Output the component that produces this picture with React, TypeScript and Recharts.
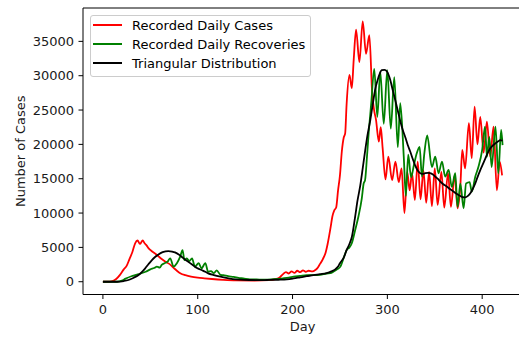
import React from 'react';
import { LineChart, Line, XAxis, YAxis, Legend, ReferenceLine } from 'recharts';

const caseDays = [0, 5, 10, 14, 18, 22, 25, 28, 31, 34, 36.5, 39, 42, 44, 46, 48, 52, 57, 62, 66, 70, 74, 78, 82, 87, 93, 100, 107, 115, 127, 140, 160, 175, 183, 187, 190, 193, 196, 199, 202, 205, 208, 211, 214, 217, 221, 224, 226, 229, 232, 235, 237, 240, 242, 244, 246, 248, 250, 252, 254, 255.5, 257, 260, 262.5, 264.5, 267, 270.5, 274, 277.5, 281, 284, 286, 288, 291, 293, 295, 298, 301, 305, 308.5, 312, 315, 318, 321, 323.5, 326, 329, 332, 335, 338, 341, 344, 347, 350, 353, 357, 360, 364, 367, 371, 374, 377, 379, 382, 386, 389, 392, 395, 398, 401.5, 405, 408.5, 412, 415.5, 418.5, 421];
const caseValues = [0, 0, 100, 400, 1000, 1800, 2300, 3300, 4300, 5600, 6000, 5500, 6000, 5600, 5300, 4900, 4400, 3900, 3300, 2900, 2600, 2100, 1600, 1200, 950, 750, 600, 500, 400, 280, 200, 180, 220, 400, 700, 1100, 1400, 1200, 1500, 1300, 1600, 1400, 1650, 1450, 1600, 1500, 1700, 1950, 2600, 3300, 4300, 5500, 7800, 9500, 10400, 10800, 13300, 15500, 19000, 21000, 21600, 25800, 30100, 28200, 32300, 36700, 32000, 37900, 33200, 35900, 27400, 25000, 23600, 20400, 22500, 19500, 14900, 18200, 14800, 17500, 14500, 16500, 10000, 16000, 13300, 15800, 11900, 17500, 12000, 16200, 11500, 16000, 11000, 16500, 11200, 16000, 10800, 15800, 10900, 15500, 10700, 14000, 19200, 16500, 23100, 18000, 25500, 20000, 24000, 18800, 23300, 18200, 22600, 13300, 17500, 15500];

const recoveryDays = [0, 15, 20, 24, 30, 34, 40, 45, 50, 54, 57, 60, 62, 65, 68, 71, 74.5, 78, 81.5, 84, 86, 88.5, 91, 94, 97, 101, 104, 108, 111, 114, 117, 120, 124, 127, 132, 138, 143, 148, 155, 162, 170, 180, 190, 196, 201, 208, 215, 222, 229, 236, 240, 243, 247, 250.5, 254, 257, 260, 262.5, 266, 269.5, 273, 275, 276.5, 278.5, 280, 283, 286.2, 289.4, 292.5, 296.2, 299.9, 303.6, 307.3, 311, 313.6, 317.3, 319.5, 322, 325, 328, 331, 334, 336.5, 339, 342, 347, 350.5, 354, 357.6, 361, 364.6, 368, 371.6, 374, 377, 380.4, 383, 386.8, 389, 392.7, 396, 400, 403, 405, 407.5, 410, 414, 417, 420, 421.5];
const recoveryValues = [0, 0, 150, 450, 800, 970, 1200, 1450, 1800, 2000, 2200, 2050, 2450, 2700, 2900, 3400, 2200, 2700, 3650, 4600, 3150, 3400, 3000, 3400, 2200, 2700, 1950, 2700, 1450, 1550, 1250, 1650, 1000, 950, 800, 700, 550, 480, 350, 330, 300, 380, 500, 600, 730, 850, 970, 950, 1000, 1200, 1250, 1450, 1800, 2200, 3500, 4600, 5000, 5600, 7500, 9500, 12100, 14300, 14800, 18200, 21100, 26000, 31000, 24000, 30600, 23000, 30800, 22300, 29800, 19600, 26000, 18200, 12500, 18500, 15200, 17000, 18700, 19650, 15300, 18700, 21300, 16700, 18200, 15800, 17500, 15300, 16300, 13800, 15800, 10900, 14300, 10700, 14300, 14500, 13100, 15300, 16700, 19200, 22600, 18200, 21100, 16700, 22600, 15800, 22100, 19900];

const fitDays = [0, 15, 22, 27, 32, 37.6, 41, 44.6, 48, 51.7, 55, 58.6, 63, 69, 73, 76, 80, 83, 86, 90, 94, 97, 100, 104, 108, 111, 117, 124, 130, 137, 145, 155, 165, 173, 185, 194, 201, 208, 215, 222, 229, 236, 241, 245, 248, 250, 254, 257, 260, 262.6, 266, 268.5, 271.4, 274, 276.7, 279, 282, 285, 287, 290, 292, 294, 297, 299.6, 303, 305.5, 308.3, 311, 313.6, 316, 319, 321.5, 324, 327, 329.4, 332, 334.7, 337, 340, 343, 345, 348, 350.6, 353, 356, 359, 363, 366, 370, 373, 377, 380, 382, 385, 387.5, 390, 392.7, 395, 398, 401, 403.4, 406, 408.5, 411, 414, 417, 419, 421.5];
const fitValues = [0, 0, 100, 250, 550, 975, 1400, 1950, 2550, 3160, 3600, 3980, 4300, 4470, 4400, 4280, 3950, 3640, 3300, 2910, 2500, 2180, 1950, 1700, 1450, 1220, 970, 730, 550, 390, 300, 250, 230, 250, 290, 350, 480, 640, 800, 970, 1100, 1250, 1500, 1800, 2200, 2700, 3500, 4600, 5500, 6550, 9460, 11800, 14000, 16500, 19200, 21300, 23540, 26200, 27900, 29500, 30300, 30800, 30850, 30600, 29400, 28000, 26450, 24900, 23400, 22200, 21000, 19900, 19000, 17800, 16900, 16200, 15800, 15700, 15800, 15850, 15800, 15600, 15300, 15000, 14560, 14200, 13830, 13500, 13100, 12800, 12480, 12300, 12290, 12500, 12870, 13500, 14300, 15200, 16260, 17200, 17970, 18800, 19420, 19800, 20150, 20450, 20630, 20550];

const seriesNames = ['Recorded Daily Cases', 'Recorded Daily Recoveries', 'Triangular Distribution'];
const seriesColors = ['#ff0000', '#008000', '#000000'];
const xTicks = [0, 100, 200, 300, 400];
const yTicks = [0, 5000, 10000, 15000, 20000, 25000, 30000, 35000];
const xDomain = [-21, 442];
const yDomain = [-1860, 39860];
const xLabel = 'Day';
const yLabel = 'Number of Cases';

const FONT = '"DejaVu Sans", sans-serif';

function buildTable() {
  const rows = new Map<number, Record<string, number>>();
  const add = (days: number[], vals: number[], key: string) => {
    days.forEach((d, i) => {
      const row = rows.get(d) ?? { day: d };
      row[key] = vals[i];
      rows.set(d, row);
    });
  };
  add(caseDays, caseValues, 'cases');
  add(recoveryDays, recoveryValues, 'recoveries');
  add(fitDays, fitValues, 'fit');
  return Array.from(rows.values()).sort((a, b) => a.day - b.day);
}

const table = buildTable();

const renderLegend = (props: any) => {
  const payload = props.payload || [];
  return (
    <div
      style={{
        display: 'inline-block',
        border: '1px solid #cccccc',
        borderRadius: 3,
        background: 'rgba(255,255,255,0.8)',
        padding: '0px 5px 3px 2px',
        fontFamily: FONT,
        fontSize: 13,
        color: '#000',
      }}
    >
      {payload.map((entry: any) => (
        <div key={entry.value} style={{ display: 'flex', alignItems: 'center', height: 19.2 }}>
          <span style={{ display: 'inline-block', width: 29, height: 2, background: entry.color, marginRight: 10 }} />
          <span style={{ whiteSpace: 'nowrap', lineHeight: '19px' }}>{entry.value}</span>
        </div>
      ))}
    </div>
  );
};

const tickStyle = { fontFamily: FONT, fontSize: 13, fill: '#1a1a1a' };

export default function App() {
  return (
    <div style={{ position: 'absolute', left: 0, top: 0, width: 519, height: 339, overflow: 'hidden', background: '#fff' }}>
      <LineChart width={522} height={339} data={table} margin={{ top: 8, right: 0, left: 0, bottom: 0 }}>
        <XAxis
          dataKey="day"
          type="number"
          domain={xDomain}
          ticks={xTicks}
          allowDataOverflow
          height={44.5}
          tickSize={4.5}
          tickMargin={6}
          tick={tickStyle}
          stroke="#000"
          axisLine={{ stroke: '#000', strokeWidth: 1 }}
          tickLine={{ stroke: '#000', strokeWidth: 1 }}
          label={{
            content: (p: any) => {
              const vb = p.viewBox;
              const cx = vb.x + vb.width / 2;
              const cy = vb.y + 36.7;
              return (
                <text x={cx} y={cy} textAnchor="middle" style={{ fontFamily: FONT, fontSize: 13 }} fill="#1a1a1a">
                  {xLabel}
                </text>
              );
            },
          }}
        />
        <YAxis
          type="number"
          domain={yDomain}
          ticks={yTicks}
          allowDataOverflow
          width={83}
          tickSize={4.5}
          tickMargin={4.5}
          tick={tickStyle}
          stroke="#000"
          axisLine={{ stroke: '#000', strokeWidth: 1 }}
          tickLine={{ stroke: '#000', strokeWidth: 1 }}
          label={{
            content: (p: any) => {
              const vb = p.viewBox;
              const cx = vb.x + 20;
              const cy = vb.y + vb.height / 2;
              return (
                <text
                  x={cx}
                  y={cy}
                  transform={`rotate(-90 ${cx} ${cy})`}
                  textAnchor="middle"
                  dominantBaseline="central"
                  style={{ fontFamily: FONT, fontSize: 13 }}
                  fill="#1a1a1a"
                >
                  {yLabel}
                </text>
              );
            },
          }}
        />
        <ReferenceLine y={yDomain[1]} stroke="#000" strokeWidth={1} ifOverflow="visible" />
        <ReferenceLine x={xDomain[1]} stroke="#000" strokeWidth={1} ifOverflow="visible" />
        <Legend
          layout="vertical"
          align="center"
          verticalAlign="middle"
          content={renderLegend}
          wrapperStyle={{ left: 90, top: 14.5, width: 'auto', height: 'auto' }}
        />
        <Line
          type="monotone"
          dataKey="cases"
          name={seriesNames[0]}
          stroke={seriesColors[0]}
          strokeWidth={1.8}
          dot={false}
          activeDot={false}
          connectNulls
          isAnimationActive={false}
        />
        <Line
          type="monotone"
          dataKey="recoveries"
          name={seriesNames[1]}
          stroke={seriesColors[1]}
          strokeWidth={1.8}
          dot={false}
          activeDot={false}
          connectNulls
          isAnimationActive={false}
        />
        <Line
          type="monotone"
          dataKey="fit"
          name={seriesNames[2]}
          stroke={seriesColors[2]}
          strokeWidth={1.8}
          dot={false}
          activeDot={false}
          connectNulls
          isAnimationActive={false}
        />
      </LineChart>
    </div>
  );
}
